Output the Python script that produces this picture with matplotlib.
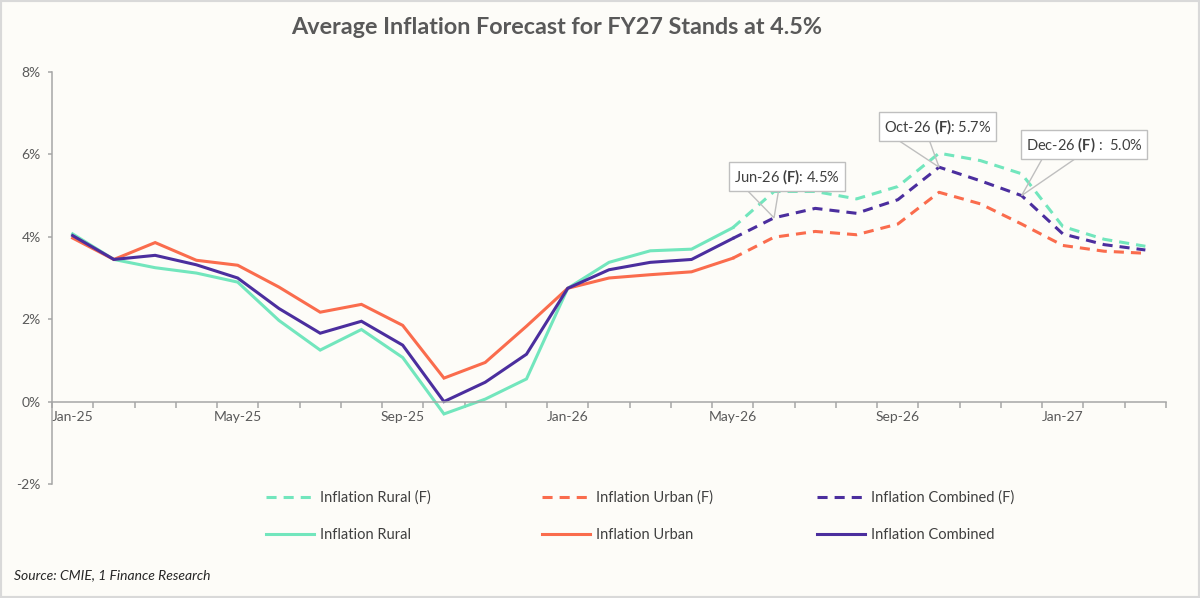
import numpy as np
import matplotlib
matplotlib.use("Agg")
import matplotlib.pyplot as plt
from matplotlib.lines import Line2D
from matplotlib.patches import Rectangle

plt.rcParams['font.family'] = ['Lato', 'DejaVu Sans']
plt.rcParams['mathtext.fontset'] = 'custom'
plt.rcParams['mathtext.rm'] = 'Lato'
plt.rcParams['mathtext.bf'] = 'Lato:bold'
plt.rcParams['mathtext.it'] = 'Lato:italic'

months = ['Jan-25', 'Feb-25', 'Mar-25', 'Apr-25', 'May-25', 'Jun-25', 'Jul-25',
          'Aug-25', 'Sep-25', 'Oct-25', 'Nov-25', 'Dec-25', 'Jan-26', 'Feb-26',
          'Mar-26', 'Apr-26', 'May-26', 'Jun-26', 'Jul-26', 'Aug-26', 'Sep-26',
          'Oct-26', 'Nov-26', 'Dec-26', 'Jan-27', 'Feb-27', 'Mar-27']

# actuals Jan-25 .. May-26
rural = [4.07, 3.45, 3.25, 3.12, 2.90, 1.97, 1.25, 1.75, 1.07, -0.30, 0.06, 0.55,
         2.75, 3.38, 3.66, 3.70, 4.22]
urban = [3.97, 3.45, 3.86, 3.43, 3.31, 2.78, 2.17, 2.36, 1.85, 0.57, 0.95, 1.83,
         2.75, 3.00, 3.08, 3.15, 3.48]
combined = [4.03, 3.45, 3.55, 3.32, 3.00, 2.26, 1.66, 1.95, 1.37, 0.00, 0.47, 1.15,
            2.75, 3.20, 3.38, 3.45, 3.96]

# forecasts Jun-26 .. Mar-27
rural_f = [5.10, 5.10, 4.92, 5.22, 6.03, 5.85, 5.53, 4.25, 3.94, 3.77]
urban_f = [3.99, 4.13, 4.05, 4.31, 5.08, 4.80, 4.31, 3.79, 3.65, 3.60]
combined_f = [4.46, 4.69, 4.57, 4.90, 5.69, 5.36, 5.00, 4.07, 3.81, 3.68]

callouts = [('Jun-26', 'Jun-26 $\\mathbf{(F)}$: 4.5%', (9, 29.5)),
            ('Oct-26', 'Oct-26 $\\mathbf{(F)}$: 5.7%', (-1, 29.5)),
            ('Dec-26', 'Dec-26 $\\mathbf{(F)}$ :  5.0%', (45, 37))]

c_rural = '#72E6BD'
c_urban = '#FA6C4D'
c_comb = '#4B2E9E'
bg = '#FDFCF8'
grey_txt = '#595959'
axis_col = '#A6A6A6'
box_col = '#BFBFBF'

fig = plt.figure(figsize=(12, 5.98), dpi=100, facecolor=bg)
ax = fig.add_axes([52 / 1200, 114 / 598, 1114 / 1200, 412 / 598])
ax.set_facecolor(bg)

n_act = len(rural)
x_act = np.arange(n_act)
x_fc = np.arange(n_act - 1, len(months))

lw = 2.2
dash = (3.3, 2.3)
series = [(rural, rural_f, c_rural, 'Inflation Rural'),
          (urban, urban_f, c_urban, 'Inflation Urban'),
          (combined, combined_f, c_comb, 'Inflation Combined')]
handles = []
for act, fc, col, name in series:
    ax.plot(x_act, act, color=col, lw=lw, solid_joinstyle='miter')
    ax.plot(x_fc, [act[-1]] + fc, color=col, lw=lw, dashes=dash)
    handles.append((Line2D([], [], color=col, lw=lw, dashes=dash, label=name + ' (F)'),
                    Line2D([], [], color=col, lw=lw, label=name)))

ax.set_xlim(-0.5, len(months) - 0.5)
ax.set_ylim(-2, 8)

for s in ['top', 'right']:
    ax.spines[s].set_visible(False)
ax.spines['bottom'].set_position(('data', 0))
for s in ['left', 'bottom']:
    ax.spines[s].set_color(axis_col)
    ax.spines[s].set_linewidth(1.1)

yt = np.arange(-2, 9, 2)
ax.set_yticks(yt)
ax.set_yticklabels([f'{v}%' for v in yt])
ax.tick_params(axis='y', length=3, width=1.1, color=axis_col, colors=grey_txt,
               labelsize=10, pad=5)

ax.set_xticks(np.arange(-0.5, len(months)), labels=[])
ax.set_xticks(np.arange(0, len(months), 4), labels=months[::4], minor=True)
ax.tick_params(axis='x', which='major', length=4, width=1.1, color=axis_col)
ax.tick_params(axis='x', which='minor', length=0, labelsize=10, colors=grey_txt, pad=7)

# callouts on the combined forecast
anns = []
for m, txt, off in callouts:
    i = months.index(m)
    xy = (i, combined_f[i - n_act])
    a = ax.annotate(txt, xy=xy, xytext=off, textcoords='offset points',
                    ha='center', va='center', fontsize=10.5, color='#404040', zorder=5,
                    bbox=dict(boxstyle='square,pad=0.35', fc='white', ec=box_col, lw=1))
    anns.append((a, xy))

# callout pointers: two lines from the bottom edge of each box to the point
fig.canvas.draw()
r = fig.canvas.get_renderer()
inv = ax.transData.inverted()
for a, xy in anns:
    bb = a.get_bbox_patch().get_window_extent(r)
    p1 = inv.transform((bb.x0 + 0.17 * bb.width, bb.y0))
    p2 = inv.transform((bb.x0 + 0.43 * bb.width, bb.y0))
    ax.plot([p1[0], xy[0], p2[0]], [p1[1], xy[1], p2[1]], color=box_col, lw=1,
            zorder=4, clip_on=False, solid_joinstyle='miter')

leg_x = [266, 542, 817]
for (hf, ha), lx in zip(handles, leg_x):
    fig.legend(handles=[hf, ha], loc='upper left', bbox_to_anchor=(lx / 1200, 1 - 490.5 / 598),
               frameon=False, fontsize=10.5, handlelength=3.3, handletextpad=0.4,
               labelspacing=1.62, borderpad=0, borderaxespad=0, labelcolor='#404040')

fig.text(557 / 1200, 1 - 28 / 598, 'Average Inflation Forecast for FY27 Stands at 4.5%',
         ha='center', va='center', fontsize=16.8, fontweight='bold', color=grey_txt)
fig.text(14 / 1200, 1 - 575 / 598, 'Source: CMIE, 1 Finance Research', ha='left',
         va='center', fontsize=10, style='italic', color='#262626')

fig.patches.append(Rectangle((0, 0), 1, 1, transform=fig.transFigure, fill=False,
                             ec='#D9D9D9', lw=3))

fig.savefig('out.png', dpi=100, facecolor=bg)
